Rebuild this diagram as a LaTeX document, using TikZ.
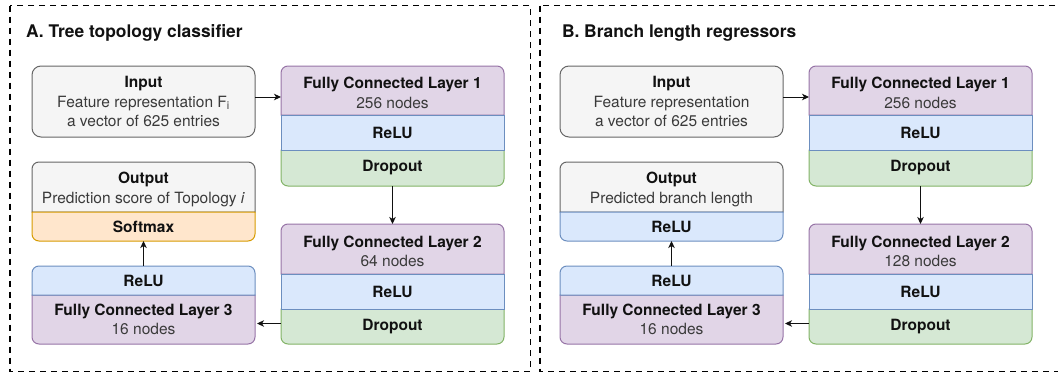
\documentclass[tikz,border=0pt]{standalone}
\usepackage{fontspec}
\setmainfont{TeX Gyre Heros}
\usetikzlibrary{arrows.meta}

\definecolor{grayF}{HTML}{F5F5F5}
\definecolor{grayD}{HTML}{666666}
\definecolor{purF}{HTML}{E1D5E7}
\definecolor{purD}{HTML}{9673A6}
\definecolor{bluF}{HTML}{DAE8FC}
\definecolor{bluD}{HTML}{6C8EBF}
\definecolor{grnF}{HTML}{D5E8D4}
\definecolor{grnD}{HTML}{82B366}
\definecolor{orgF}{HTML}{FFE6CC}
\definecolor{orgD}{HTML}{D79B00}
\definecolor{txt}{HTML}{3A3A3A}
\definecolor{hd}{HTML}{111111}

\pgfdeclarelayer{bg}
\pgfsetlayers{bg,main}

\newcommand\hd[1]{{\bfseries\color{hd}#1}}

% section backgrounds: rounded top, rounded bottom, plain middle
\newcommand\capT[2]{\path[#2, line width=1pt] (#1.south west) -- ([yshift=-7pt]#1.north west)
  .. controls ([yshift=-3.1pt]#1.north west) and ([xshift=3.1pt]#1.north west) .. ([xshift=7pt]#1.north west)
  -- ([xshift=-7pt]#1.north east)
  .. controls ([xshift=-3.1pt]#1.north east) and ([yshift=-3.1pt]#1.north east) .. ([yshift=-7pt]#1.north east)
  -- (#1.south east) -- cycle;}
\newcommand\capB[2]{\path[#2, line width=1pt] (#1.north west) -- ([yshift=7pt]#1.south west)
  .. controls ([yshift=3.1pt]#1.south west) and ([xshift=3.1pt]#1.south west) .. ([xshift=7pt]#1.south west)
  -- ([xshift=-7pt]#1.south east)
  .. controls ([xshift=-3.1pt]#1.south east) and ([yshift=3.1pt]#1.south east) .. ([yshift=7pt]#1.south east)
  -- (#1.north east) -- cycle;}
\newcommand\capM[2]{\path[#2, line width=1pt] (#1.south west) rectangle (#1.north east);}

\tikzset{
  every node/.style={inner sep=0pt, outer sep=0pt},
  sec/.style={align=center, text=txt, font=\fontsize{15.5}{19.5}\selectfont},
  wbox/.style={sec, minimum width=223pt},
  low/.style={label={[sec, yshift=-2.5pt]center:{#1}}},
  gry/.style={fill=grayF, draw=grayD},
  pur/.style={fill=purF, draw=purD},
  blu/.style={fill=bluF, draw=bluD},
  grn/.style={fill=grnF, draw=grnD},
  org/.style={fill=orgF, draw=orgD},
  frame/.style={draw=black, line width=1.4pt, dash pattern=on 6pt off 5pt},
  arr/.style={draw=hd, line width=1pt, -{Stealth[length=7pt,width=6.5pt,inset=2pt]}},
  ttl/.style={anchor=west, font=\fontsize{17.4}{20}\selectfont\bfseries, text=hd},
}

% one network panel
% #1 suffix, #2 x shift, #3 title x, #4 title, #5 input line, #6 output line,
% #7 last layer style, #8 last layer text, #9 size of layer 2
\newcommand\netpanel[9]{%
\begin{scope}[xshift=#2pt]
  \node[ttl] (t#1) at (#3,33) {#4};
  \node[wbox, gry, line width=1pt, rounded corners=9pt, minimum height=71pt] (in#1) at (143.5,101.5)
    {\hd{Input}\\#5\\a vector of 625 entries};
  \node[wbox, minimum height=49pt, low={\hd{Fully Connected Layer 1}\\256 nodes}] (fa#1) at (392.5,90.5) {};
  \node[wbox, minimum height=35pt] (ra#1) at (392.5,132.5) {\hd{ReLU}};
  \node[wbox, minimum height=36pt] (da#1) at (392.5,168) {\hd{Dropout}};
  \node[wbox, minimum height=50pt, low={\hd{Output}\\#6}] (o#1) at (143.5,187) {};
  \node[wbox, minimum height=29pt] (s#1) at (143.5,226.5) {\hd{#8}};
  \node[wbox, minimum height=50pt, low={\hd{Fully Connected Layer 2}\\#9 nodes}] (fb#1) at (392.5,249) {};
  \node[wbox, minimum height=35pt] (rb#1) at (392.5,291.5) {\hd{ReLU}};
  \node[wbox, minimum height=35pt] (db#1) at (392.5,326.5) {\hd{Dropout}};
  \node[wbox, minimum height=29pt] (rc#1) at (143.5,280.5) {\hd{ReLU}};
  \node[wbox, minimum height=49pt] (fc#1) at (143.5,319.5) {\hd{Fully Connected Layer 3}\\16 nodes};
  \begin{pgfonlayer}{bg}
    \capT{fa#1}{pur}\capB{da#1}{grn}\capM{ra#1}{blu}
    \capT{o#1}{gry}\capB{s#1}{#7}
    \capT{fb#1}{pur}\capB{db#1}{grn}\capM{rb#1}{blu}
    \capB{fc#1}{pur}\capT{rc#1}{blu}
  \end{pgfonlayer}
  \coordinate (ia#1) at ([yshift=4.5pt]in#1.east);
  \coordinate (ib#1) at ([yshift=3pt]db#1.west);
  \draw[arr] (ia#1) -- (ia#1 -| fa#1.west);
  \draw[arr] (da#1.south) -- (fb#1.north);
  \draw[arr, shorten >=2pt] (ib#1) -- (ib#1 -| fc#1.east);
  \draw[arr] (rc#1.north) -- (s#1.south);
\end{scope}}

\begin{document}
\begin{tikzpicture}[x=1pt, y=-1pt]
  \useasboundingbox (0,0) rectangle (1058,372);
  \begin{scope}
    \clip (0,0) rectangle (1058,372);
    \draw[frame] (10,5.5) rectangle (530.5,371.5);
    \draw[frame] (540,5.5) rectangle (1075,371.5);
  \end{scope}
  \netpanel{A}{0}{26}{A. Tree topology classifier}{Feature representation F\textsubscript{i}}%
    {Prediction score of Topology \textit{i}}{org}{Softmax}{64}
  \netpanel{B}{528}{34}{B. Branch length regressors}{Feature representation}%
    {Predicted branch length}{blu}{ReLU}{128}
\end{tikzpicture}
\end{document}
